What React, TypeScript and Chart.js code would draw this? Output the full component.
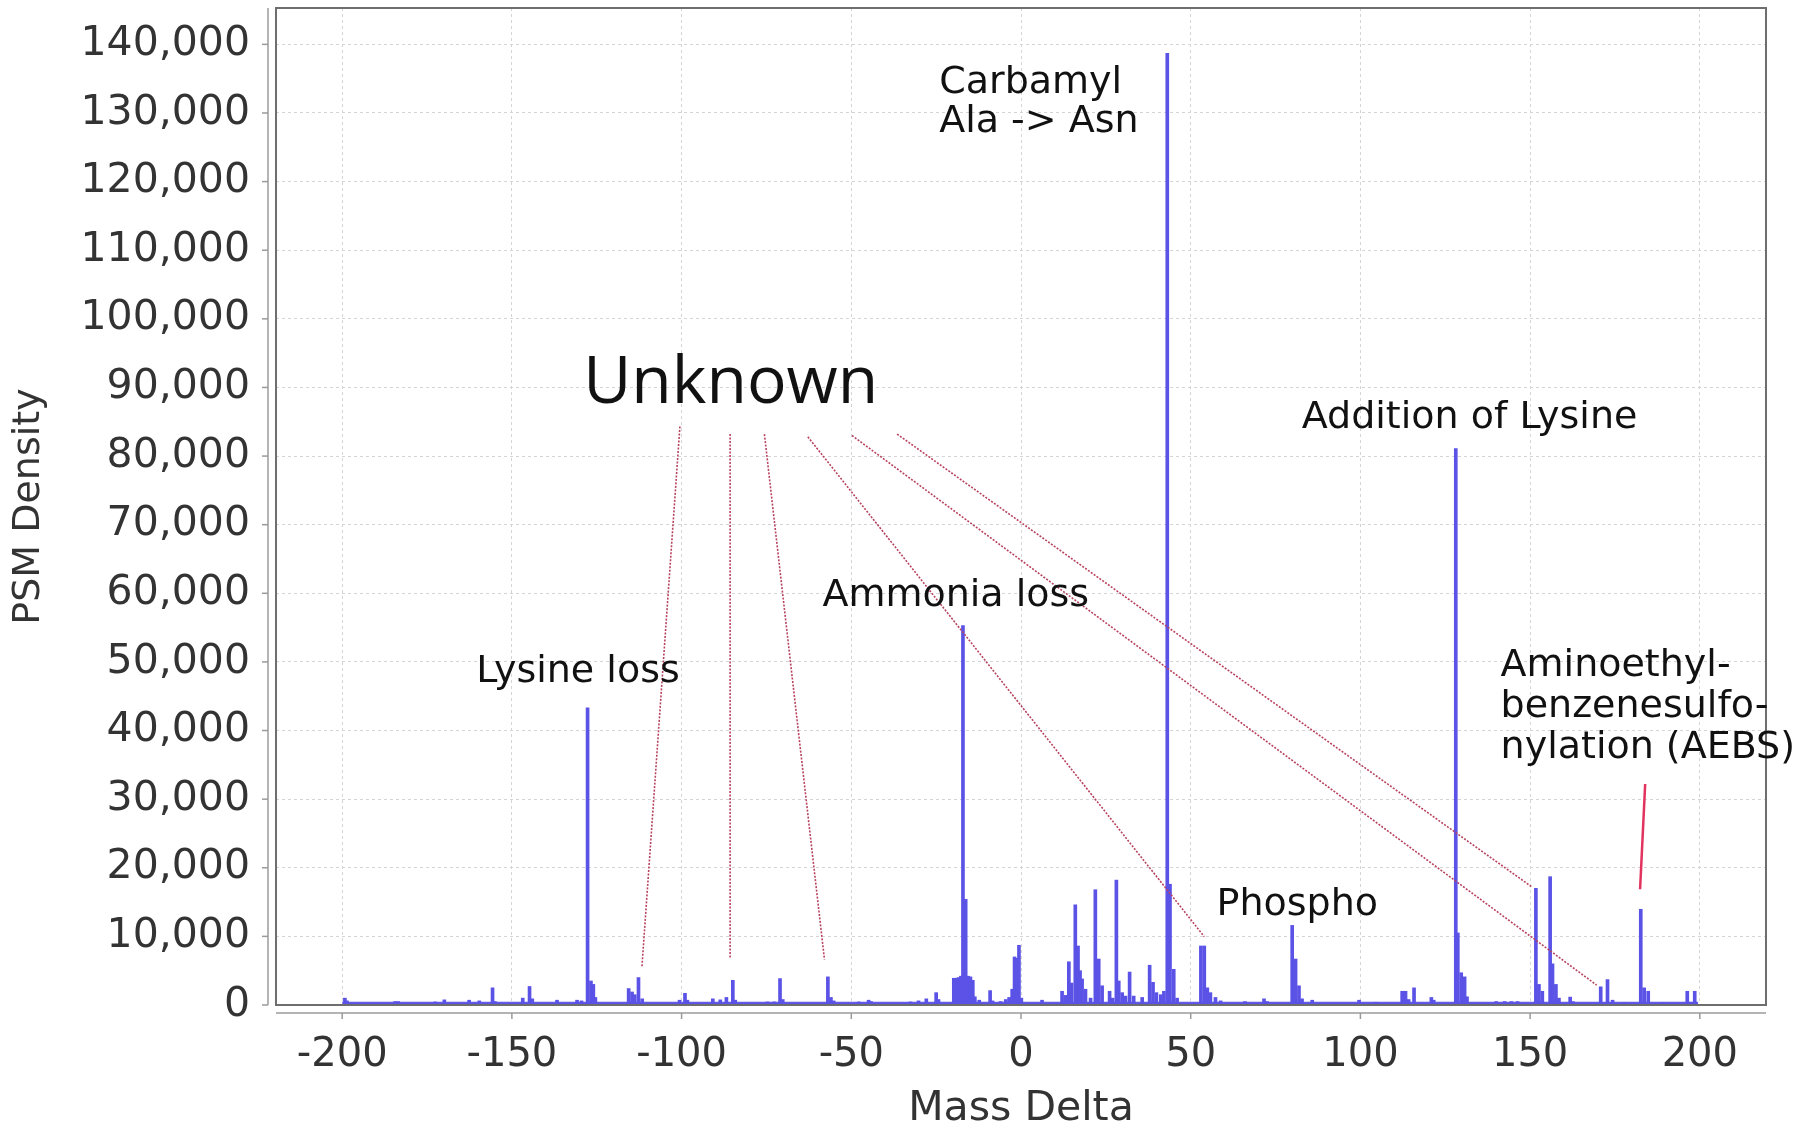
import React, { useEffect, useRef } from "react";
import { Chart, registerables } from "chart.js";

Chart.register(...registerables);

// Histogram bins (mass delta, PSM density)
const massDelta = [
  -199.2, -198.6, -184.4, -183.5, -172.6, -169.9, -162.6, -159.6, -155.7, -155.0,
  -146.8, -144.8, -144.0, -136.7, -130.8, -129.5, -127.7, -126.7, -126.0, -125.4,
  -115.6, -114.6, -113.8, -112.7, -111.6, -100.6, -99.0, -98.3, -90.8, -88.6,
  -86.8, -84.9, -84.2, -74.7, -72.7, -71.0, -70.2, -56.9, -56.0, -55.2,
  -47.8, -44.9, -44.2, -32.6, -30.2, -27.9, -25.0, -24.3, -19.8, -19.0,
  -18.4, -17.7, -17.1, -16.3, -15.6, -14.9, -14.2, -13.6, -12.3, -9.1,
  -8.4, -6.0, -4.5, -3.5, -2.6, -1.9, -1.2, -0.6, 0.1, 6.2,
  12.1, 13.1, 14.1, 14.9, 16.0, 16.8, 17.4, 18.0, 19.0, 20.5,
  21.9, 22.9, 23.9, 26.1, 27.0, 28.1, 28.8, 29.8, 30.8, 32.0,
  33.2, 35.7, 37.9, 38.9, 39.9, 41.2, 42.1, 43.1, 43.9, 45.0,
  46.0, 53.0, 54.0, 54.9, 55.8, 57.3, 58.8, 66.0, 71.6, 72.5,
  79.9, 80.9, 81.9, 82.8, 85.8, 99.6, 104.5, 112.3, 113.3, 114.2,
  115.8, 120.9, 121.6, 128.1, 128.7, 129.7, 130.7, 131.4, 140.0, 142.5,
  144.5, 146.3, 151.7, 152.6, 153.6, 155.9, 156.6, 157.6, 158.5, 161.8,
  162.6, 170.8, 172.8, 174.3, 177.7, 182.6, 183.6, 184.8, 189.0, 196.3,
  197.4, 198.5,
];
const psmDensity = [
  1000, 600, 500, 500, 450, 750, 700, 600, 2500, 500,
  1000, 2700, 900, 700, 700, 600, 43300, 3500, 3000, 1100,
  2400, 1900, 1500, 4000, 900, 700, 1700, 700, 900, 750,
  1100, 3600, 700, 450, 450, 3850, 800, 4100, 1100, 600,
  450, 700, 500, 450, 600, 900, 1800, 800, 3900, 3900,
  4000, 4200, 55300, 15400, 4200, 4100, 3600, 1200, 700, 2100,
  600, 500, 800, 1100, 2300, 7000, 6800, 8700, 1000, 700,
  2000, 1400, 6300, 3200, 14600, 8600, 5000, 3800, 2300, 1000,
  16800, 6700, 2800, 2000, 1000, 18200, 3500, 1800, 1300, 4800,
  1300, 1100, 5800, 3300, 1800, 1500, 2000, 138700, 17600, 5200,
  1000, 8600, 8600, 2500, 1800, 1100, 600, 500, 900, 500,
  11600, 6700, 2800, 900, 700, 700, 400, 2000, 2000, 800,
  2500, 1100, 700, 81100, 10500, 4700, 4100, 1200, 500, 500,
  500, 500, 17000, 3000, 2000, 18700, 6000, 3000, 1000, 1150,
  500, 2650, 3700, 700, 350, 13950, 2500, 2000, 350, 2000,
  400, 2000,
];

// low background level under the whole histogram
const baselineMass = [-200, 199.5];
const baselineDensity = [400, 400];

// axis ranges / ticks
const xRange = [-219.5, 219.5];
const xTickValues = [-200, -150, -100, -50, 0, 50, 100, 150, 200];
const yRange = [0, 145300];
const yTickValues = [
  0, 10000, 20000, 30000, 40000, 50000, 60000, 70000,
  80000, 90000, 100000, 110000, 120000, 130000, 140000,
];

// annotation labels (anchor: left edge, vertical middle, in data units)
const labelTexts = [
  "Carbamyl", "Ala -> Asn", "Unknown", "Lysine loss", "Ammonia loss",
  "Addition of Lysine", "Phospho", "Aminoethyl-", "benzenesulfo-", "nylation (AEBS)",
];
const labelMass = [-24.1, -24.1, -129.0, -160.5, -58.5, 82.7, 57.6, 141.3, 141.3, 141.3];
const labelDensity = [134400, 128600, 90500, 48500, 59600, 85600, 14600, 49400, 43400, 37400];

// callout lines (data units)
const calloutFromMass = [-100.5, -85.7, -75.6, -62.8, -49.8, -36.5, 183.9];
const calloutFromDensity = [84300, 83200, 83200, 82800, 83000, 83200, 32200];
const calloutToMass = [-111.7, -85.7, -57.9, 54.0, 169.6, 150.4, 182.4];
const calloutToDensity = [5440, 6740, 6600, 9960, 2900, 17250, 16860];

const BAR_COLOR = "#5b52e6";
const FONT = '"DejaVu Sans", Verdana, sans-serif';

const decorPlugin = {
  id: "decor",
  afterDraw(chart: any) {
    const { ctx, chartArea: a, scales } = chart;
    const x = scales.x;
    const y = scales.y;
    const line = (x1: number, y1: number, x2: number, y2: number) => {
      ctx.beginPath();
      ctx.moveTo(x1, y1);
      ctx.lineTo(x2, y2);
      ctx.stroke();
    };
    ctx.save();
    // plot frame
    ctx.strokeStyle = "#6e6e6e";
    ctx.lineWidth = 2;
    ctx.strokeRect(a.left, a.top, a.right - a.left, a.bottom - a.top);
    // offset axis lines
    ctx.strokeStyle = "#b4b4b4";
    ctx.lineWidth = 2;
    line(a.left - 8, a.top, a.left - 8, a.bottom);
    line(a.left, a.bottom + 8, a.right, a.bottom + 8);
    // tick marks
    ctx.strokeStyle = "#9a9a9a";
    ctx.lineWidth = 1.5;
    y.ticks.forEach((t: any) => {
      const py = y.getPixelForValue(t.value);
      line(a.left - 14, py, a.left - 8, py);
    });
    x.ticks.forEach((t: any) => {
      const px = x.getPixelForValue(t.value);
      line(px, a.bottom + 8, px, a.bottom + 14);
    });
    // callout lines
    for (let i = 0; i < calloutFromMass.length; i++) {
      const last = i === calloutFromMass.length - 1;
      ctx.strokeStyle = last ? "#e2325e" : "#b8435f";
      ctx.lineWidth = last ? 2.5 : 1.6;
      ctx.setLineDash(last ? [] : [2, 1.5]);
      line(
        x.getPixelForValue(calloutFromMass[i]),
        y.getPixelForValue(calloutFromDensity[i]),
        x.getPixelForValue(calloutToMass[i]),
        y.getPixelForValue(calloutToDensity[i])
      );
    }
    ctx.setLineDash([]);
    // labels
    ctx.fillStyle = "#111111";
    ctx.textAlign = "left";
    ctx.textBaseline = "middle";
    for (let i = 0; i < labelTexts.length; i++) {
      ctx.font = labelTexts[i] === "Unknown" ? '66px "Open Sans", sans-serif' : "38px " + FONT;
      ctx.fillText(labelTexts[i], x.getPixelForValue(labelMass[i]), y.getPixelForValue(labelDensity[i]));
    }
    ctx.restore();
  },
};

export default function App() {
  const canvasRef = useRef<HTMLCanvasElement | null>(null);

  useEffect(() => {
    const canvas = canvasRef.current;
    if (!canvas) return;
    const chart = new Chart(canvas, {
      type: "bar",
      data: {
        datasets: [
          {
            type: "line",
            data: baselineMass.map((m, i) => ({ x: m, y: baselineDensity[i] })),
            backgroundColor: BAR_COLOR,
            borderColor: BAR_COLOR,
            borderWidth: 1,
            pointRadius: 0,
            fill: "origin",
            order: 2,
          } as any,
          {
            type: "bar",
            data: massDelta.map((m, i) => ({ x: m, y: psmDensity[i] })),
            backgroundColor: BAR_COLOR,
            borderWidth: 0,
            barThickness: 3,
            order: 1,
          } as any,
        ],
      },
      options: {
        responsive: false,
        devicePixelRatio: 1,
        animation: false,
        layout: { padding: { left: 0, top: 8, right: 34, bottom: 0 } },
        plugins: { legend: { display: false }, tooltip: { enabled: false } },
        scales: {
          x: {
            type: "linear",
            min: xRange[0],
            max: xRange[1],
            offset: false,
            grid: { color: "#d4d4d4", lineWidth: 1, drawTicks: false, offset: false },
            border: { display: false, dash: [3, 3] },
            ticks: {
              padding: 27,
              color: "#333333",
              font: { family: FONT, size: 40 },
              maxRotation: 0,
              autoSkip: false,
              callback: (v: any) => String(v),
            },
            afterBuildTicks: (s: any) => {
              s.ticks = xTickValues.map((v) => ({ value: v }));
            },
            title: {
              display: true,
              text: "Mass Delta",
              color: "#333333",
              font: { family: FONT, size: 41, lineHeight: 1 },
              padding: { top: 0, bottom: 1.5 },
            },
            afterFit: (s: any) => {
              s.height = 126;
              s.paddingLeft = 0;
              s.paddingRight = 0;
            },
          },
          y: {
            type: "linear",
            min: yRange[0],
            max: yRange[1],
            grid: { color: "#d4d4d4", lineWidth: 1, drawTicks: false },
            border: { display: false, dash: [3, 3] },
            ticks: {
              padding: 26,
              color: "#333333",
              font: { family: FONT, size: 41 },
              autoSkip: false,
              callback: (v: any) => Number(v).toLocaleString("en-US"),
            },
            afterBuildTicks: (s: any) => {
              s.ticks = yTickValues.map((v) => ({ value: v }));
            },
            title: {
              display: true,
              text: "PSM Density",
              color: "#333333",
              font: { family: FONT, size: 38, lineHeight: 1.2 },
              padding: { top: 6, bottom: 0 },
            },
            afterFit: (s: any) => {
              s.width = 276;
              s.paddingTop = 0;
              s.paddingBottom = 0;
            },
          },
        },
      },
      plugins: [decorPlugin],
    });
    return () => chart.destroy();
  }, []);

  return (
    <div style={{ position: "absolute", left: 0, top: 0, width: 1800, height: 1131, background: "#ffffff" }}>
      <canvas ref={canvasRef} width={1800} height={1131} style={{ display: "block", width: 1800, height: 1131 }} />
    </div>
  );
}
